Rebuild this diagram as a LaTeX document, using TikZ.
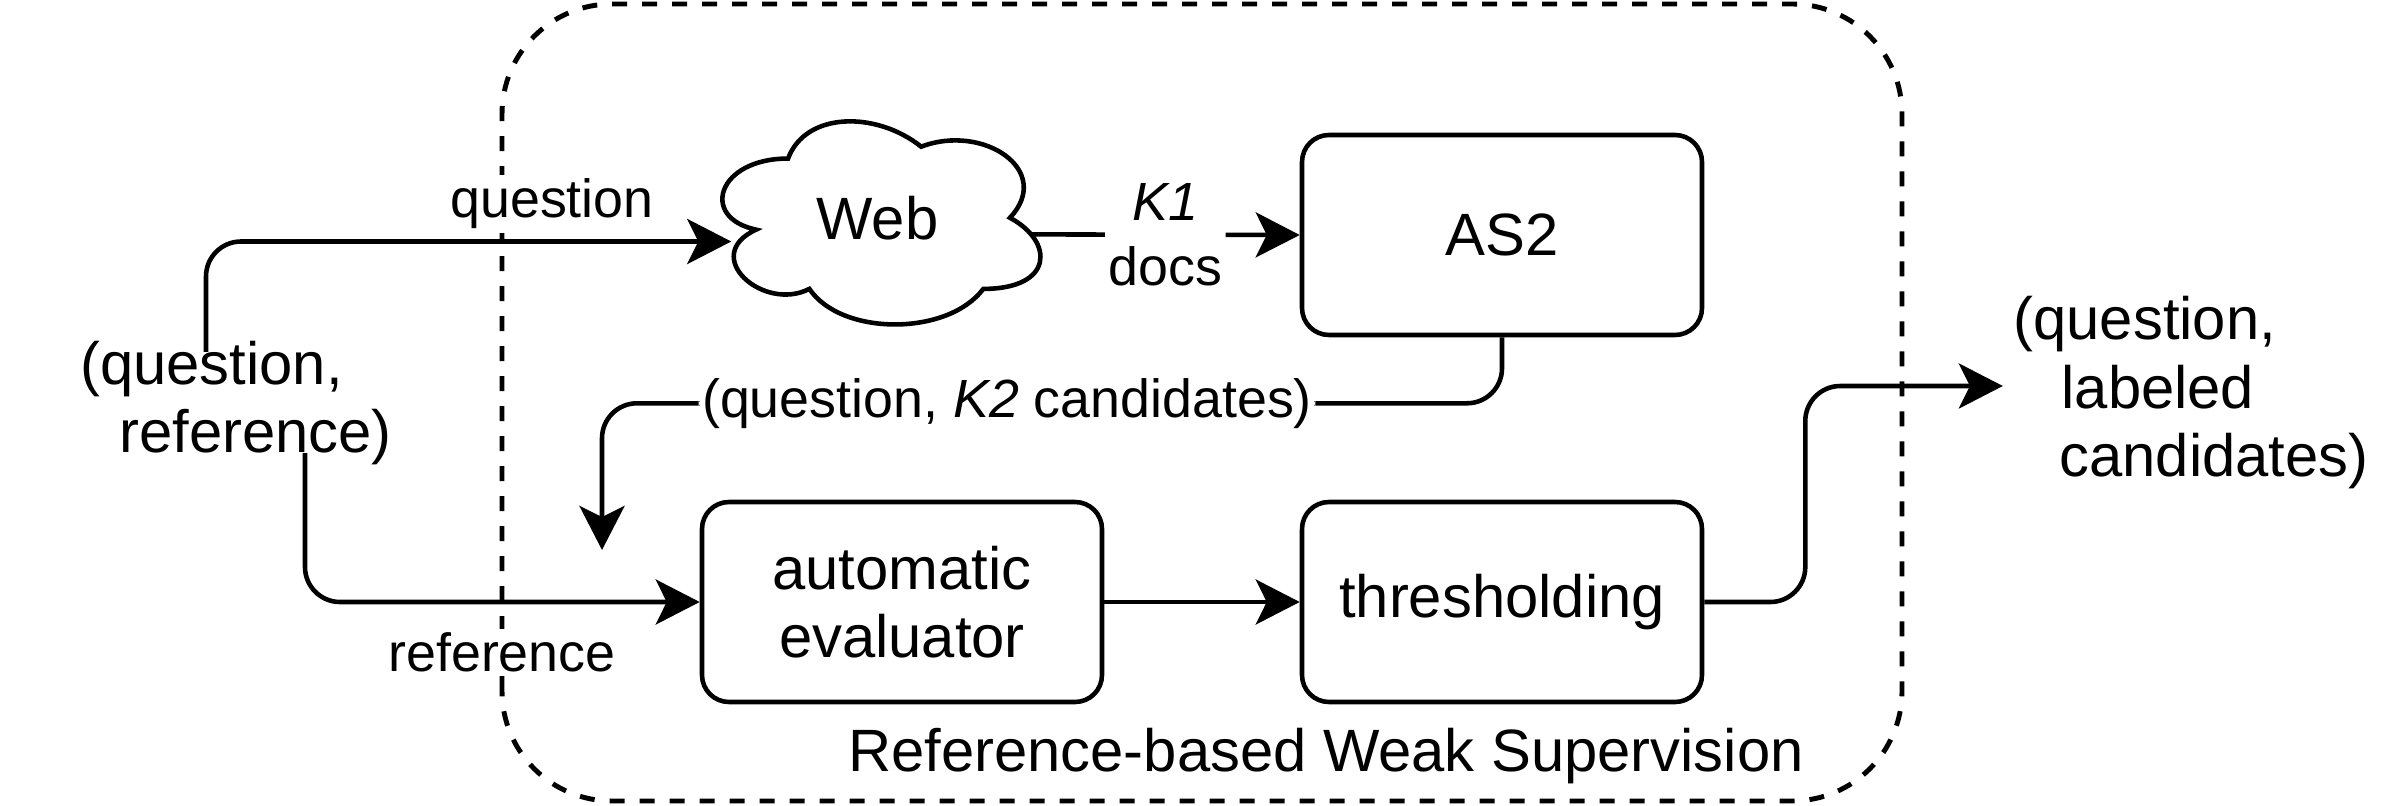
\documentclass[tikz,border=0pt]{standalone}
\usepackage{fontspec}
\setmainfont{Liberation Sans}
\usetikzlibrary{arrows.meta, positioning}

\begin{document}
\begin{tikzpicture}[
  box/.style={draw, line width=1.3pt, rounded corners=0.27cm, minimum width=4cm, minimum height=2cm, align=center, font=\fontsize{17}{19.5}\selectfont},
  txt/.style={inner sep=0pt, align=left, font=\fontsize{17}{19.5}\selectfont},
  lbl/.style={fill=white, inner sep=1pt, align=center, font=\fontsize{15.3}{18.4}\selectfont},
  arr/.style={line width=1.3pt, rounded corners=0.35cm, -{Stealth[length=0.44cm, width=0.45cm, inset=0.11cm]}}
]
\useasboundingbox (0,0) rectangle (24.05,8.05);

\draw[line width=1.4pt, dash pattern=on 0.15cm off 0.15cm, rounded corners=1.1cm] (5.02,0.04) rectangle (19.02,8.01);

\node[minimum width=3.55cm, minimum height=2.37cm, inner sep=0pt, font=\fontsize{17}{19.5}\selectfont] (web) at (8.775,5.865) {Web};
\begin{scope}[shift={(web.north west)}, x=3.55cm, y=-2.37cm]
\draw[line width=1.3pt] (0.25,0.25) .. controls (0.05,0.25) and (0,0.5) .. (0.16,0.55)
  .. controls (0,0.66) and (0.18,0.9) .. (0.31,0.8)
  .. controls (0.4,1) and (0.7,1) .. (0.8,0.8)
  .. controls (1,0.8) and (1,0.6) .. (0.875,0.5)
  .. controls (1,0.3) and (0.8,0.1) .. (0.625,0.2)
  .. controls (0.5,0.05) and (0.3,0.05) .. (0.25,0.25) -- cycle;
\coordinate (webin) at (0.09,0.6);
\coordinate (webout) at (0.934,0.57);
\end{scope}
\node[box] (as2) at (15.02,5.70) {AS2};
\node[box] (eval) at (9.02,2.03) {automatic\\evaluator};
\node[box] (thresh) at (15.02,2.03) {thresholding};

\node[txt] (inp) at (2.36,4.02) {(question,\\\hspace*{0.39cm}reference)};
\node[txt, inner sep=0.1cm] (out) at (21.91,4.12) {(question,\\\hspace*{0.48cm}labeled\\\hspace*{0.46cm}candidates)};
\node[txt] (ws) at (13.26,0.49) {Reference-based Weak Supervision};

\node[lbl] (lq) at (5.52,6.01) {question};
\node[lbl] (lr) at (5.02,1.53) {reference};

\coordinate (qs) at (2.06,4.53);
\coordinate (rs) at (3.05,3.52);
\coordinate (k2) at (6.02,2.55);

\draw[arr] (qs) |- (webin);
\draw[arr] (rs) |- (eval.west);
\draw[arr] (webout) -- node[lbl]{\textit{K1}\\docs} (as2.west);
\draw[arr] (as2.south) -- ++(0,-0.66) -| node[lbl, pos=0.275]{(question, \textit{K2} candidates)} (k2);
\draw[arr] (eval) -- (thresh);
\draw[arr] (thresh.east) -- ++(1.01,0) |- ([yshift=0.07cm]out.west);
\end{tikzpicture}
\end{document}
